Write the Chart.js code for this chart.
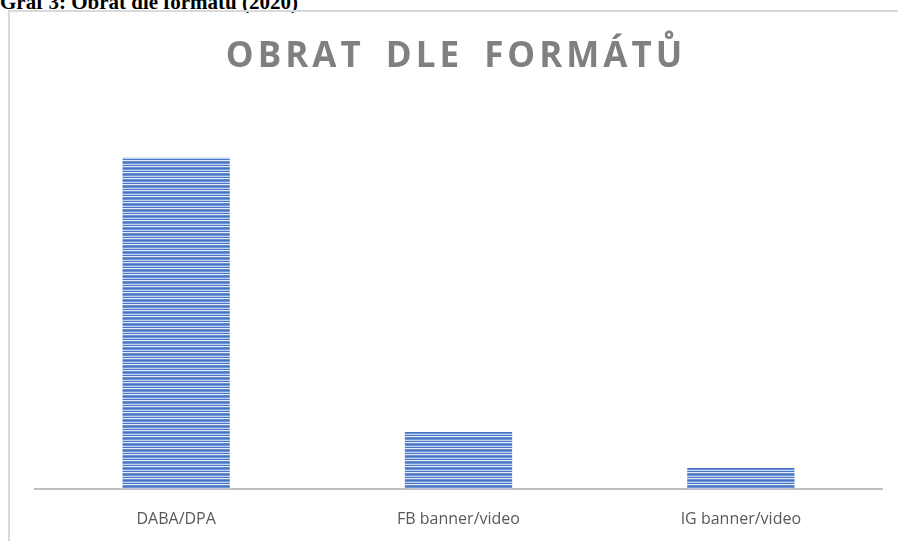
<!DOCTYPE html>
<html>
<head>
<meta charset="utf-8">
<script src="https://cdn.jsdelivr.net/npm/chart.js@4"></script>
<style>
  body { margin: 0; background: #fff; width: 898px; height: 541px; overflow: hidden; position: relative; }
  #caption { position: absolute; left: 0; top: -10px; font: bold 21px "Liberation Serif", "Times New Roman", serif; color: #000; white-space: nowrap; }
  #frame { position: absolute; left: 8px; top: 10px; width: 890px; height: 531px; border-left: 2px solid #d9d9d9; border-top: 2px solid #d9d9d9; }
  #wrap { position: absolute; left: 10px; top: 12px; width: 888px; height: 538px; }
  #title { position: absolute; left: 10px; width: 888px; top: 30px; text-align: center; font: bold 35px "Open Sans", sans-serif; letter-spacing: 4px; word-spacing: 8px; text-indent: 4px; color: #808080; white-space: nowrap; }
</style>
</head>
<body>
<div id="caption">Graf 3: Obrat dle formátu (2020)</div>
<div id="frame"></div>
<div id="wrap"><canvas id="chart"></canvas></div>
<div id="title">OBRAT DLE FORMÁTŮ</div>
<script>
const categories = ['DABA/DPA', 'FB banner/video', 'IG banner/video'];
const turnover = [333, 57, 21];

function stripes() {
  const c = document.createElement('canvas');
  c.width = 8;
  c.height = 6;
  const g = c.getContext('2d');
  const rows = ['#4472c4', '#7094d4', '#c2d2ef', '#4a76c6', '#e2eaf8', '#6a8fd2'];
  rows.forEach((col, i) => {
    g.fillStyle = col;
    g.fillRect(0, i, 8, 1);
  });
  return g.createPattern(c, 'repeat');
}

const ctx = document.getElementById('chart').getContext('2d');
new Chart(ctx, {
  type: 'bar',
  data: {
    labels: categories,
    datasets: [{
      data: turnover,
      backgroundColor: stripes(),
      borderWidth: 0,
      categoryPercentage: 1,
      barPercentage: 0.38
    }]
  },
  options: {
    responsive: true,
    maintainAspectRatio: false,
    animation: false,
    layout: { padding: { left: 25, right: 16, top: 79, bottom: 0 } },
    plugins: {
      legend: { display: false },
      tooltip: { enabled: false },
      title: { display: false }
    },
    scales: {
      x: {
        grid: { display: false, drawTicks: false },
        border: { color: '#bfbfbf', width: 2 },
        ticks: { color: '#595959', font: { family: 'Open Sans', size: 16 }, padding: 21 }
      },
      y: {
        display: false,
        min: 0,
        max: 400
      }
    }
  }
});
</script>
</body>
</html>
